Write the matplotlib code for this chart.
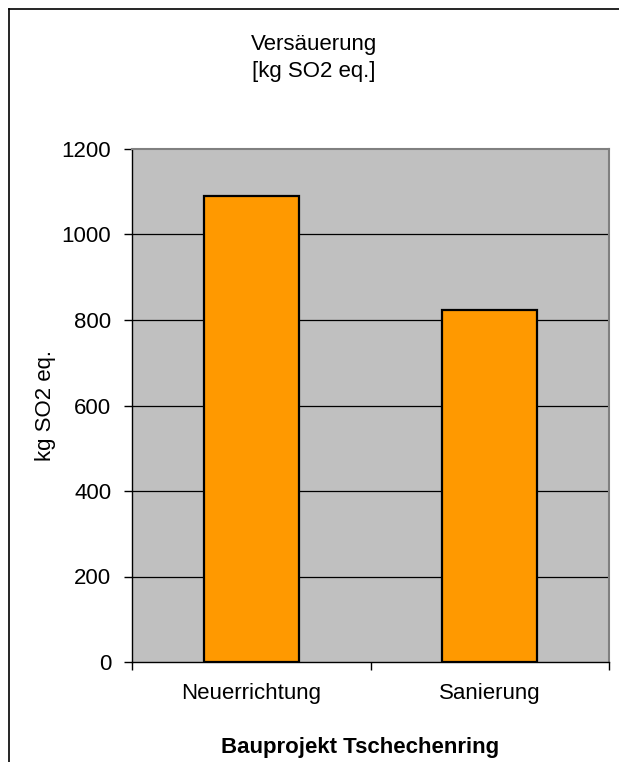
import matplotlib
matplotlib.use("Agg")
import matplotlib.pyplot as plt
from matplotlib.lines import Line2D

plt.rcParams['font.family'] = ['Liberation Sans', 'DejaVu Sans']

categories = ["Neuerrichtung", "Sanierung"]
values = [1090, 824]
yticks = [0, 200, 400, 600, 800, 1000, 1200]
title = "Versäuerung\n[kg SO2 eq.]"
ylabel = "kg SO2 eq."
xlabel = "Bauprojekt Tschechenring"

W, H = 619, 762
FS = 16
fig = plt.figure(figsize=(W / 100, H / 100), dpi=100)
fig.patch.set_facecolor("white")

ax = fig.add_axes([132 / W, 1 - 662 / H, (609 - 132) / W, (662 - 149) / H])
ax.set_facecolor("#C0C0C0")

x = list(range(len(categories)))
ax.bar(x, values, width=0.4, color="#FF9900", edgecolor="black", linewidth=1.6, zorder=3)

ax.set_xlim(-0.5, len(categories) - 0.5)
ax.set_ylim(0, 1200)
ax.set_yticks(yticks)
ax.set_yticklabels([str(v) for v in yticks], fontsize=FS)
for v in yticks[1:-1]:
    ax.axhline(v, color="black", linewidth=0.9, zorder=1)

ax.set_xticks([i - 0.5 for i in range(len(categories) + 1)])
ax.set_xticklabels([])
ax.set_xticks(x, minor=True)
ax.set_xticklabels(categories, minor=True, fontsize=FS)
ax.tick_params(axis="x", which="major", direction="out", length=6, width=1, color="black")
ax.tick_params(axis="x", which="minor", length=0, pad=15)
ax.tick_params(axis="y", direction="out", length=6, width=1, color="black", pad=9)

for s in ["top", "right"]:
    ax.spines[s].set_color("#808080")
    ax.spines[s].set_linewidth(1.5)
for s in ["left", "bottom"]:
    ax.spines[s].set_color("black")
    ax.spines[s].set_linewidth(1)

fig.text(314 / W, 1 - 58 / H, title, ha="center", va="center", fontsize=FS, linespacing=1.4)
fig.text(45 / W, 1 - 405 / H, ylabel, ha="center", va="center", rotation=90, fontsize=FS)
fig.text(360 / W, 1 - 747 / H, xlabel, ha="center", va="center", fontsize=FS, fontweight="bold")

# figure border (left and top)
fig.add_artist(Line2D([8.5 / W, 8.5 / W], [0, 1 - 8.5 / H], transform=fig.transFigure, color="black", linewidth=1.2))
fig.add_artist(Line2D([8.5 / W, 1], [1 - 8.5 / H, 1 - 8.5 / H], transform=fig.transFigure, color="black", linewidth=1.2))

fig.savefig("out.png", dpi=100)
